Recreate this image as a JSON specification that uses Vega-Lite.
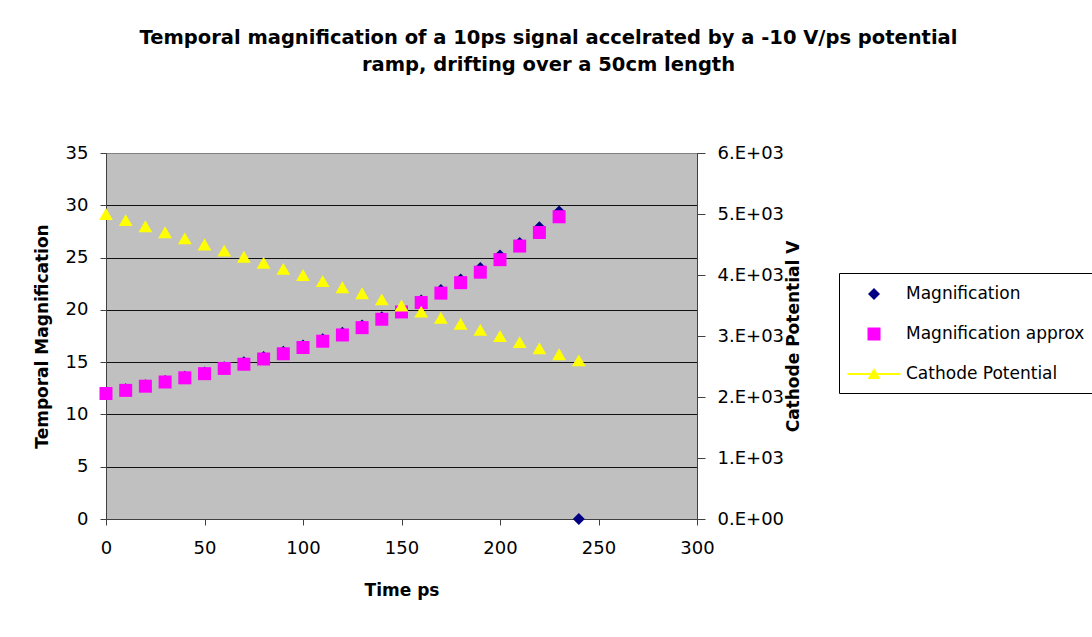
{
  "$schema": "https://vega.github.io/schema/vega-lite/v6.json",
  "width": 591,
  "height": 366,
  "autosize": {"type": "none"},
  "padding": {"left": 106, "top": 153, "right": 395, "bottom": 118},
  "background": "white",
  "config": {
    "font": "DejaVu Sans",
    "view": {"fill": "#C0C0C0", "stroke": "#808080", "strokeWidth": 1},
    "axis": {
      "domainColor": "#404040",
      "tickColor": "#404040",
      "labelColor": "black",
      "titleColor": "black",
      "labelFontSize": 18,
      "titleFontSize": 17,
      "titleFontWeight": "bold",
      "labelFont": "DejaVu Sans",
      "titleFont": "DejaVu Sans"
    },
    "legend": {
      "orient": "none",
      "legendX": 733,
      "legendY": 120,
      "title": null,
      "padding": 11,
      "strokeColor": "black",
      "fillColor": "white",
      "labelFontSize": 17,
      "labelFont": "DejaVu Sans",
      "labelColor": "black",
      "labelLimit": 400,
      "symbolSize": 400,
      "symbolOffset": 14,
      "labelOffset": 22,
      "rowPadding": 22,
      "symbolStrokeWidth": 0
    }
  },
  "title": {
    "text": ["Temporal magnification of a 10ps signal accelrated by a -10 V/ps potential", "ramp, drifting over a 50cm length"],
    "font": "DejaVu Sans",
    "fontSize": 19.5,
    "fontWeight": "bold",
    "color": "black",
    "anchor": "middle",
    "dx": 147,
    "offset": 69,
    "lineHeight": 27
  },
  "data": {
    "values": [
      {"t": 0, "M": 12.05, "Ma": 12.0, "V": 5000},
      {"t": 10, "M": 12.4, "Ma": 12.3, "V": 4900},
      {"t": 20, "M": 12.8, "Ma": 12.7, "V": 4800},
      {"t": 30, "M": 13.2, "Ma": 13.1, "V": 4700},
      {"t": 40, "M": 13.6, "Ma": 13.5, "V": 4600},
      {"t": 50, "M": 14.0, "Ma": 13.9, "V": 4500},
      {"t": 60, "M": 14.5, "Ma": 14.4, "V": 4400},
      {"t": 70, "M": 15.0, "Ma": 14.8, "V": 4300},
      {"t": 80, "M": 15.5, "Ma": 15.3, "V": 4200},
      {"t": 90, "M": 16.0, "Ma": 15.8, "V": 4100},
      {"t": 100, "M": 16.6, "Ma": 16.4, "V": 4000},
      {"t": 110, "M": 17.2, "Ma": 17.0, "V": 3900},
      {"t": 120, "M": 17.8, "Ma": 17.6, "V": 3800},
      {"t": 130, "M": 18.5, "Ma": 18.3, "V": 3700},
      {"t": 140, "M": 19.3, "Ma": 19.1, "V": 3600},
      {"t": 150, "M": 20.1, "Ma": 19.8, "V": 3500},
      {"t": 160, "M": 20.9, "Ma": 20.7, "V": 3400},
      {"t": 170, "M": 21.9, "Ma": 21.6, "V": 3300},
      {"t": 180, "M": 22.9, "Ma": 22.6, "V": 3200},
      {"t": 190, "M": 24.0, "Ma": 23.6, "V": 3100},
      {"t": 200, "M": 25.2, "Ma": 24.8, "V": 3000},
      {"t": 210, "M": 26.4, "Ma": 26.1, "V": 2900},
      {"t": 220, "M": 27.9, "Ma": 27.4, "V": 2800},
      {"t": 230, "M": 29.4, "Ma": 28.9, "V": 2700},
      {"t": 240, "M": 0, "Ma": null, "V": 2600}
    ]
  },
  "encoding": {
    "x": {
      "field": "t",
      "type": "quantitative",
      "scale": {"domain": [0, 300], "nice": false, "zero": false},
      "axis": {
        "values": [0, 50, 100, 150, 200, 250, 300],
        "grid": false,
        "tickSize": 6,
        "labelPadding": 14,
        "title": "Time ps",
        "titleY": 71,
        "titleBaseline": "middle",
        "labelFlush": false,
        "labelOverlap": false
      }
    }
  },
  "layer": [
    {
      "layer": [
        {
          "mark": {"type": "point", "filled": true, "size": 400, "opacity": 1},
          "encoding": {
            "y": {
              "field": "M",
              "type": "quantitative",
              "scale": {"domain": [0, 35], "nice": false},
              "axis": {
                "orient": "left",
                "values": [0, 5, 10, 15, 20, 25, 30, 35],
                "grid": true,
                "gridColor": {"condition": {"test": "datum.value == 35", "value": "#808080"}, "value": "#111111"},
                "gridWidth": 1,
                "tickSize": 6,
                "labelPadding": 12,
                "title": "Temporal Magnification",
                "titleX": -64,
                "titleY": 183,
                "titleAngle": -90,
                "titleBaseline": "middle",
                "labelFlush": false,
                "labelOverlap": false
              }
            },
            "color": {
              "datum": "Magnification",
              "type": "nominal",
              "scale": {
                "domain": ["Magnification", "Magnification approx", "Cathode Potential"],
                "range": ["#000080", "#FF00FF", "#FFFF00"]
              }
            },
            "shape": {
              "datum": "Magnification",
              "type": "nominal",
              "scale": {
                "domain": ["Magnification", "Magnification approx", "Cathode Potential"],
                "range": [
                  "M0,-0.6L0.6,0L0,0.6L-0.6,0Z",
                  "M-0.65,-0.65H0.65V0.65H-0.65Z",
                  "M-2.65,-0.1H2.65V0.1H-2.65Z M0,-0.6L0.65,0.5H-0.65Z"
                ]
              }
            }
          }
        },
        {
          "mark": {"type": "point", "filled": true, "size": 400, "opacity": 1},
          "encoding": {
            "y": {
              "field": "Ma",
              "type": "quantitative",
              "scale": {"domain": [0, 35], "nice": false},
              "axis": {
                "orient": "left",
                "values": [0, 5, 10, 15, 20, 25, 30, 35],
                "grid": true,
                "gridColor": {"condition": {"test": "datum.value == 35", "value": "#808080"}, "value": "#111111"},
                "gridWidth": 1,
                "tickSize": 6,
                "labelPadding": 12,
                "title": "Temporal Magnification",
                "titleX": -64,
                "titleY": 183,
                "titleAngle": -90,
                "titleBaseline": "middle",
                "labelFlush": false,
                "labelOverlap": false
              }
            },
            "color": {"datum": "Magnification approx", "type": "nominal"},
            "shape": {"datum": "Magnification approx", "type": "nominal"}
          }
        }
      ]
    },
    {
      "mark": {"type": "point", "shape": "triangle-up", "filled": true, "size": 190, "opacity": 1},
      "encoding": {
        "y": {
          "field": "V",
          "type": "quantitative",
          "scale": {"domain": [0, 6000], "nice": false},
          "axis": {
            "orient": "right",
            "values": [0, 1000, 2000, 3000, 4000, 5000, 6000],
            "grid": false,
            "tickSize": 8,
            "labelPadding": 12,
            "labelExpr": "datum.value == 0 ? '0.E+00' : format(datum.value / 1000, 'd') + '.E+03'",
            "title": "Cathode Potential V",
            "titleX": 96,
            "titleY": 183,
            "titleAngle": -90,
            "titleBaseline": "middle",
            "labelFlush": false,
            "labelOverlap": false
          }
        },
        "color": {"datum": "Cathode Potential", "type": "nominal"}
      }
    }
  ],
  "resolve": {"scale": {"y": "independent"}}
}
